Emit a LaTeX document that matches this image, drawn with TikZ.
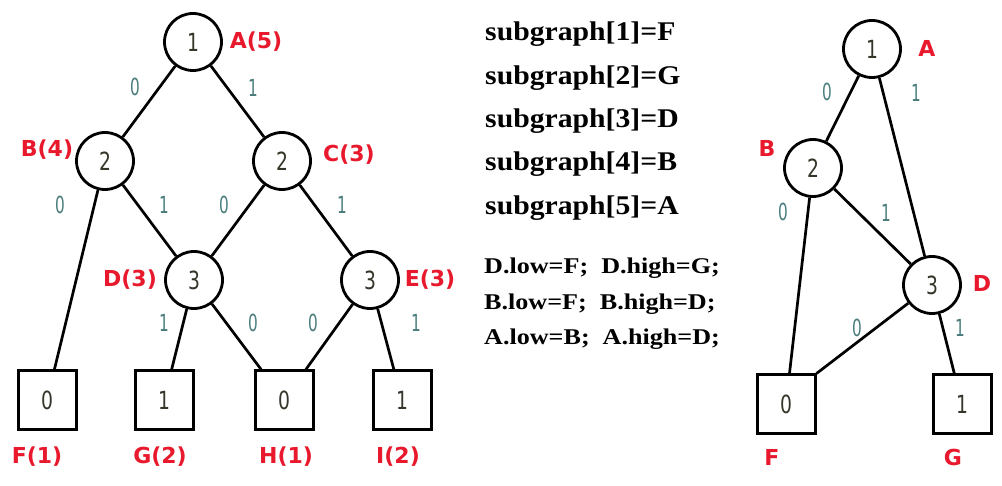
\documentclass[tikz,border=0pt]{standalone}
\usepackage{fontspec}
\usepackage{graphicx}
\usepackage{tikz}
\setmainfont{Liberation Serif}
\newfontfamily\digitfont{DejaVu Sans}
\definecolor{namered}{HTML}{E8192C}
\definecolor{bitteal}{HTML}{4A7C7C}
\definecolor{digitgray}{HTML}{35352A}
\newcommand{\dg}[1]{\scalebox{0.75}[1]{#1}}
\newcommand{\bt}[1]{\scalebox{0.65}[1]{#1}}

\begin{document}
\begin{tikzpicture}[x=1pt,y=-1pt,
  bddnode/.style={draw,circle,line width=2.8pt,minimum size=57pt,inner sep=0pt,
               font=\digitfont\fontsize{25}{25}\selectfont,text=digitgray},
  leafbox/.style={draw,rectangle,line width=3pt,minimum size=58pt,inner sep=0pt,
               font=\digitfont\fontsize{25}{25}\selectfont,text=digitgray},
  nodename/.style={font=\digitfont\bfseries\fontsize{22}{22}\selectfont,text=namered,inner sep=0pt},
  edgebit/.style={font=\digitfont\fontsize{23.5}{23.5}\selectfont,text=bitteal,inner sep=0pt},
  bigline/.style={font=\bfseries\fontsize{27}{27}\selectfont,anchor=base west,inner sep=0pt},
  smallline/.style={font=\bfseries\fontsize{22.5}{22.5}\selectfont,anchor=base west,inner sep=0pt},
  ln/.style={line width=2.7pt}]
\useasboundingbox (0,0) rectangle (1002,486);
% left: full tree
\node[bddnode] (A) at (193,42) {\dg{1}};
\node[bddnode] (B) at (105,161) {\dg{2}};
\node[bddnode] (C) at (282,161) {\dg{2}};
\node[bddnode] (D) at (194,280) {\dg{3}};
\node[bddnode] (E) at (370,280) {\dg{3}};
\node[leafbox] (F) at (47,400) {\dg{0}};
\node[leafbox] (G) at (164,400) {\dg{1}};
\node[leafbox] (H) at (284,400) {\dg{0}};
\node[leafbox] (I) at (402,400) {\dg{1}};
\draw[ln] (A)--(B); \draw[ln] (A)--(C); \draw[ln] (B)--(F); \draw[ln] (B)--(D); \draw[ln] (C)--(D);
\draw[ln] (C)--(E); \draw[ln] (D)--(G); \draw[ln] (D)--(H); \draw[ln] (E)--(H); \draw[ln] (E)--(I);
\node[nodename] (nA) at (256,42) {A(5)};
\node[nodename] (nB) at (47,150) {B(4)};
\node[nodename] (nC) at (349,155) {C(3)};
\node[nodename] (nD) at (130,280) {D(3)};
\node[nodename] (nE) at (430,280) {E(3)};
\node[nodename] (nF) at (37,457) {F(1)};
\node[nodename] (nG) at (160,457) {G(2)};
\node[nodename] (nH) at (286,457) {H(1)};
\node[nodename] (nI) at (398,457) {I(2)};
\node[edgebit] at (135,87) {\bt{0}};
\node[edgebit] at (253,88) {\bt{1}};
\node[edgebit] at (60,205) {\bt{0}};
\node[edgebit] at (164,205) {\bt{1}};
\node[edgebit] at (224,205) {\bt{0}};
\node[edgebit] at (342,205) {\bt{1}};
\node[edgebit] at (164,323) {\bt{1}};
\node[edgebit] at (253,323) {\bt{0}};
\node[edgebit] at (313,323) {\bt{0}};
\node[edgebit] at (416,323) {\bt{1}};
% middle: table
\foreach \i/\v in {1/F,2/G,3/D,4/B,5/A}
  \node[bigline] (sg\i) at (485,41+43.3*\i-43.3) {\scalebox{1.1}[1]{subgraph[\i]=\v}};
\node[smallline] (lowD) at (484,274) {\scalebox{1.16}[1]{D.low=F;\ \ D.high=G;}};
\node[smallline] (lowB) at (484,310) {\scalebox{1.16}[1]{B.low=F;\ \ B.high=D;}};
\node[smallline] (lowA) at (484,345) {\scalebox{1.16}[1]{A.low=B;\ \ A.high=D;}};
% right: reduced graph
\node[bddnode] (rA) at (872,49) {\dg{1}};
\node[bddnode] (rB) at (813,168) {\dg{2}};
\node[bddnode] (rD) at (932,285) {\dg{3}};
\node[leafbox] (rF) at (786,404) {\dg{0}};
\node[leafbox] (rG) at (962,404) {\dg{1}};
\draw[ln] (rA)--(rB); \draw[ln] (rA)--(rD); \draw[ln] (rB)--(rF); \draw[ln] (rB)--(rD);
\draw[ln] (rD)--(rF.north east); \draw[ln] (rD)--(rG);
\node[nodename] (mA) at (927,48) {A};
\node[nodename] (mB) at (767,148) {B};
\node[nodename] (mD) at (982,283) {D};
\node[nodename] (mF) at (772,457) {F};
\node[nodename] (mG) at (953,457) {G};
\node[edgebit] at (827,92) {\bt{0}};
\node[edgebit] at (916,93) {\bt{1}};
\node[edgebit] at (783,212) {\bt{0}};
\node[edgebit] at (886,213) {\bt{1}};
\node[edgebit] at (857,328) {\bt{0}};
\node[edgebit] at (960,328) {\bt{1}};
\end{tikzpicture}
\end{document}
